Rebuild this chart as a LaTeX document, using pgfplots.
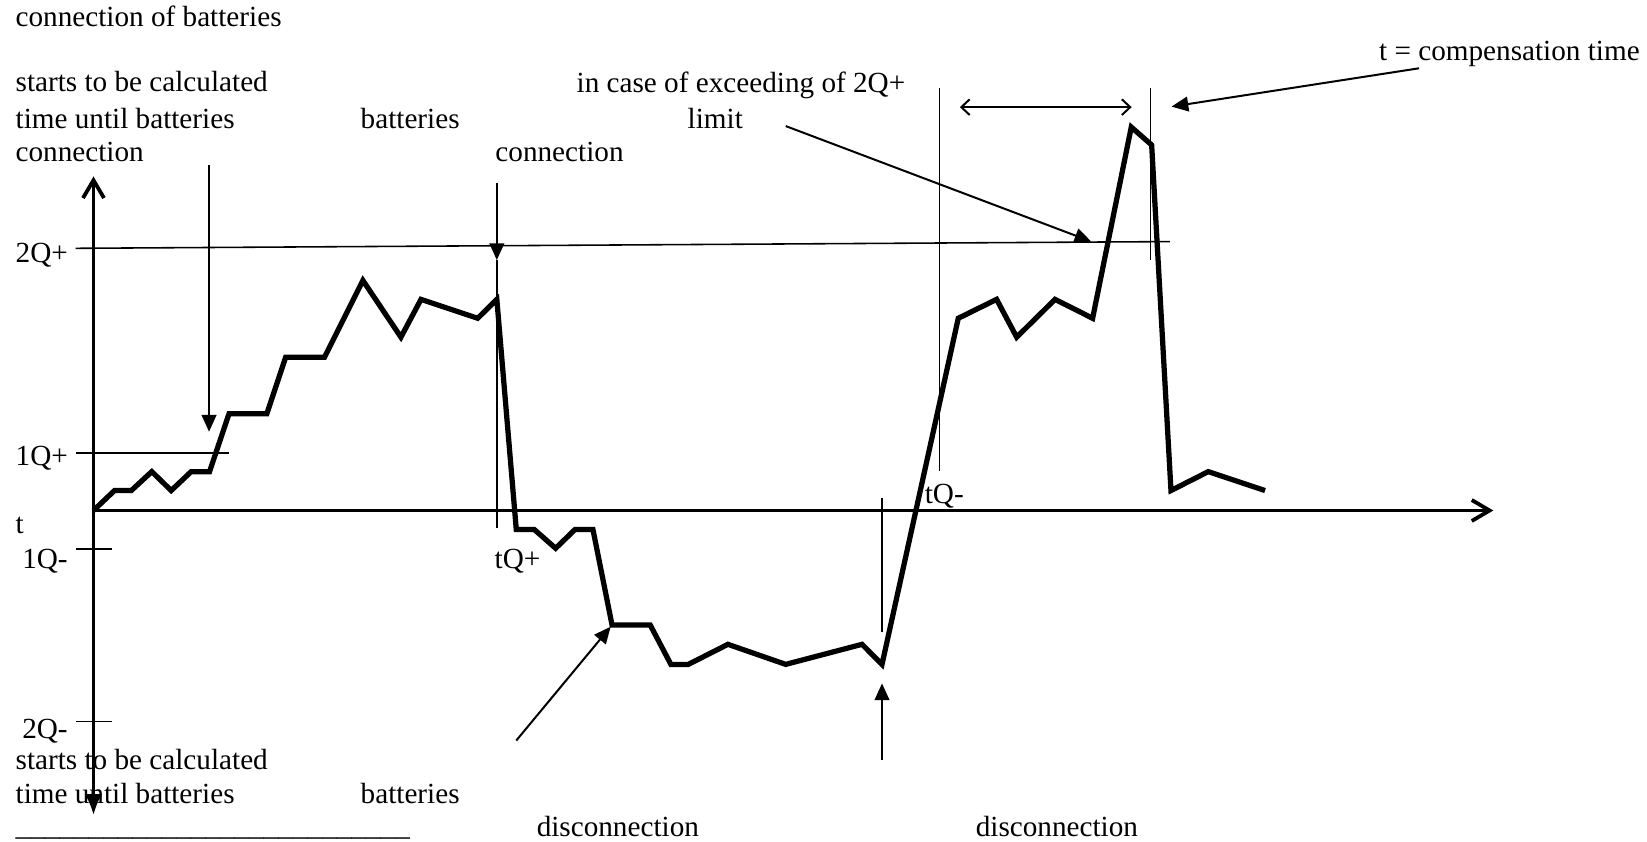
\documentclass[border=0pt]{standalone}
\usepackage{fontspec}
\setmainfont{Liberation Serif}
\usepackage{pgfplots}
\pgfplotsset{compat=1.18}
\usetikzlibrary{arrows.meta}
\begin{document}
\begin{tikzpicture}[
  txt/.style={anchor=base west, inner sep=0pt, outer sep=0pt, font=\fontsize{27.8}{33}\selectfont},
  thin line/.style={line width=1.5pt},
  fhead/.style={-{Triangle[length=16pt,width=14pt]}, line width=1.9pt},
]
\begin{axis}[
  scale only axis, width=1568pt, height=801pt,
  xmin=0, xmax=1568, ymin=0, ymax=801, y dir=reverse,
  hide axis, clip=false,
]
% main signal
\addplot[black, line width=5pt, line join=miter, miter limit=4] coordinates {
(89,486) (109,467) (125,467) (144.5,449) (163,467) (182,449) (199.5,449)
(218,394) (254,394) (272,340) (309,340) (345.5,267) (381.7,321) (400.8,285)
(454.8,303) (473,285) (491.5,504) (508.5,504) (529,522) (547.5,504) (564.5,504)
(582.7,595) (619,595) (638.7,632.5) (655.3,632.5) (693,613.4) (748,632.5)
(820.7,613.4) (839.7,632.5) (912.3,303) (948.8,285) (967.9,321) (1004.4,285)
(1040.2,303) (1077,121) (1096.4,138) (1114.8,467) (1150.3,449) (1204.3,467)
};
% axes
\draw[line width=3.6pt, {Latex[length=20pt,width=17pt]}-{Straight Barb[length=17pt,width=20pt]}]
  (axis cs:89,776) -- (axis cs:89,168);
\draw[line width=3.6pt, -{Straight Barb[length=17pt,width=20pt]}]
  (axis cs:87.2,486) -- (axis cs:1421.7,486);
% level lines and ticks
\draw[thin line] (axis cs:72,236.4) -- (axis cs:1113.7,230);
\draw[thin line] (axis cs:72,431) -- (axis cs:218,431);
\draw[thin line] (axis cs:72,522.7) -- (axis cs:107,522.7);
\draw[thin line] (axis cs:72,687) -- (axis cs:107,687);
% vertical markers
\draw[fhead] (axis cs:473,174) -- (axis cs:473,247.6);
\draw[thin line] (axis cs:473,247.6) -- (axis cs:473,503);
\draw[fhead] (axis cs:199,157) -- (axis cs:199,411);
\draw[thin line] (axis cs:894.6,84) -- (axis cs:894.6,448);
\draw[thin line] (axis cs:1095.4,84) -- (axis cs:1095.4,247.5);
\draw[thin line] (axis cs:839.7,474) -- (axis cs:839.7,602);
\draw[fhead] (axis cs:839.7,723.5) -- (axis cs:839.7,650.6);
\draw[fhead] (axis cs:491.5,705) -- (axis cs:581.4,596.6);
\draw[fhead] (axis cs:748,120) -- (axis cs:1039,230);
\draw[fhead] (axis cs:1351,65) -- (axis cs:1115.3,101.5);
\draw[line width=1.9pt, {Straight Barb[length=8pt,width=15pt]}-{Straight Barb[length=8pt,width=15pt]}]
  (axis cs:913.8,102) -- (axis cs:1077.4,102);
% texts
\node[txt] at (axis cs:14.9,25.4) {connection of batteries};
\node[txt] at (axis cs:14.9,87.3) {starts to be calculated};
\node[txt] at (axis cs:14.9,122) {time until batteries};
\node[txt] at (axis cs:14.9,154) {connection};
\node[txt] at (axis cs:343.4,122) {batteries};
\node[txt] at (axis cs:471.7,154) {connection};
\node[txt] at (axis cs:549,88) {in case of exceeding of 2Q+};
\node[txt, anchor=base] at (axis cs:681,122) {limit};
\node[txt] at (axis cs:1313,57.5) {t = compensation time};
\node[txt] at (axis cs:14.9,250) {2Q+};
\node[txt] at (axis cs:14.9,443) {1Q+};
\node[txt] at (axis cs:14.9,508) {t};
\node[txt] at (axis cs:21.2,541) {1Q-};
\node[txt] at (axis cs:21.2,703) {2Q-};
\node[txt] at (axis cs:471,541) {tQ+};
\node[txt] at (axis cs:880.5,479) {tQ-};
\node[txt] at (axis cs:14.9,733) {starts to be calculated};
\node[txt] at (axis cs:14.9,765) {time until batteries};
\node[txt] at (axis cs:343.4,765) {batteries};
\node[txt] at (axis cs:14.9,795) {\_\_\_\_\_\_\_\_\_\_\_\_\_\_\_\_\_\_\_\_\_\_\_\_\_\_\_};
\node[txt] at (axis cs:511,796) {disconnection};
\node[txt] at (axis cs:929,796) {disconnection};
\end{axis}
\pgfresetboundingbox
\useasboundingbox (0,0) rectangle (1568pt,801pt);
\end{tikzpicture}
\end{document}
